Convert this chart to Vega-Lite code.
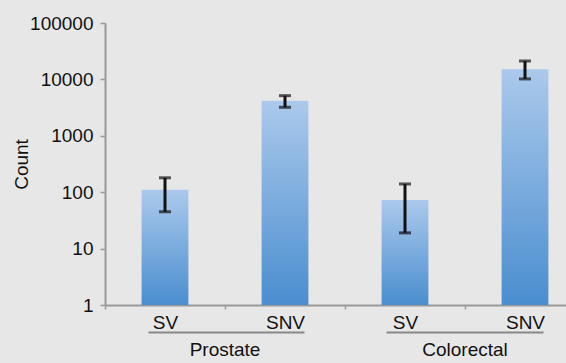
{
  "$schema": "https://vega.github.io/schema/vega-lite/v6.json",
  "autosize": {"type": "none"},
  "width": 461,
  "height": 282,
  "padding": {"left": 105, "top": 23, "right": 0, "bottom": 58},
  "background": "#e7e7e7",
  "config": {
    "view": {"stroke": null},
    "font": "Liberation Sans",
    "axis": {"labelFont": "Liberation Sans", "titleFont": "Liberation Sans", "grid": false}
  },
  "data": {
    "values": [
      {"key": "Prostate SV", "group": "Prostate", "type": "SV", "count": 110, "low": 45, "high": 180},
      {"key": "Prostate SNV", "group": "Prostate", "type": "SNV", "count": 4200, "low": 3200, "high": 5150},
      {"key": "Colorectal SV", "group": "Colorectal", "type": "SV", "count": 73, "low": 19, "high": 140},
      {"key": "Colorectal SNV", "group": "Colorectal", "type": "SNV", "count": 15100, "low": 10200, "high": 21200}
    ]
  },
  "layer": [
    {
      "mark": {
        "type": "bar",
        "width": {"band": 0.39},
        "color": {
          "gradient": "linear", "x1": 0, "y1": 0, "x2": 0, "y2": 1,
          "stops": [{"offset": 0, "color": "#abc9ec"}, {"offset": 1, "color": "#4a8ecf"}]
        }
      },
      "encoding": {
        "x": {
          "field": "key", "type": "nominal", "sort": null,
          "scale": {"range": [0, 480], "paddingInner": 0, "paddingOuter": 0},
          "axis": {
            "orient": "bottom", "title": null, "labelAngle": 0,
            "labelExpr": "split(datum.label, ' ')[1]",
            "tickBand": "extent", "tickSize": 4, "tickColor": "#999999", "tickWidth": 1.5,
            "domainColor": "#999999", "domainWidth": 2,
            "labelFontSize": 19, "labelColor": "#111111", "labelPadding": 4
          }
        },
        "y": {
          "field": "count", "type": "quantitative",
          "scale": {"type": "log", "domain": [1, 100000], "nice": false},
          "axis": {
            "values": [1, 10, 100, 1000, 10000, 100000], "format": "d",
            "title": "Count", "titleFontSize": 19, "titleFontWeight": "normal", "titleColor": "#111111", "titlePadding": -2,
            "labelFontSize": 19, "labelColor": "#111111", "labelPadding": 7,
            "tickSize": 5, "tickColor": "#999999", "tickWidth": 1.5,
            "domainColor": "#999999", "domainWidth": 2
          }
        },
        "y2": {"datum": 1}
      }
    },
    {
      "encoding": {
        "x": {
          "field": "group", "type": "nominal", "sort": null,
          "scale": {"range": [0, 480], "paddingInner": 0, "paddingOuter": 0},
          "axis": {
            "orient": "bottom", "offset": 27, "title": null, "labelAngle": 0,
            "ticks": false, "labelFontSize": 19, "labelColor": "#111111", "labelPadding": 8,
            "domainColor": "#888888", "domainWidth": 2,
            "domainDash": [0, 43, 156, 82, 157, 200]
          }
        },
        "xOffset": {"field": "type", "type": "nominal", "sort": null, "scale": {"paddingInner": 0, "paddingOuter": 0}}
      },
      "layer": [
        {"mark": {"type": "rule", "color": "#111111", "strokeWidth": 3}, "encoding": {"y": {"field": "low", "type": "quantitative"}, "y2": {"field": "high"}}},
        {"mark": {"type": "tick", "color": "#111111", "thickness": 3, "size": 12}, "encoding": {"y": {"field": "low", "type": "quantitative"}}},
        {"mark": {"type": "tick", "color": "#111111", "thickness": 3, "size": 12}, "encoding": {"y": {"field": "high", "type": "quantitative"}}}
      ]
    }
  ],
  "resolve": {"scale": {"x": "independent"}}
}
